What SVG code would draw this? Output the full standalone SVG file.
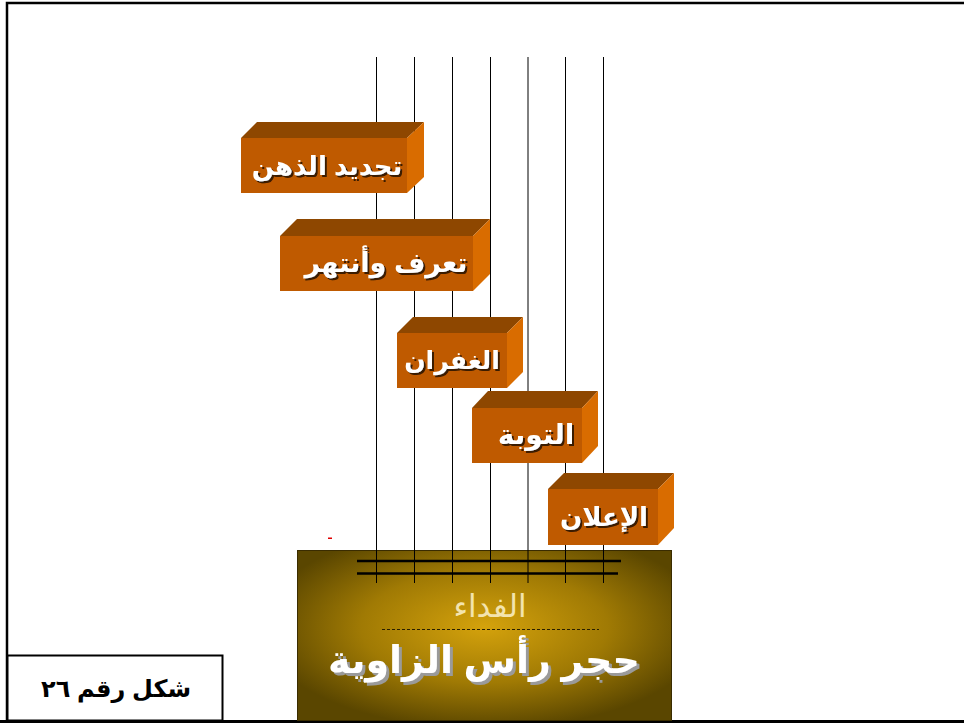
<svg xmlns="http://www.w3.org/2000/svg" width="964" height="724" viewBox="0 0 964 724">
<defs>
<radialGradient id="gold" cx="50%" cy="45%" r="60%">
<stop offset="0" stop-color="#d4a20c"/>
<stop offset="0.55" stop-color="#a07a04"/>
<stop offset="1" stop-color="#5a4600"/>
</radialGradient>
<filter id="dark" x="-10%" y="-30%" width="130%" height="160%">
<feOffset in="SourceAlpha" dx="2" dy="2" result="o"/>
<feFlood flood-color="#3a1a00"/>
<feComposite in2="o" operator="in" result="s"/>
<feMerge><feMergeNode in="s"/><feMergeNode in="SourceGraphic"/></feMerge>
</filter>
<filter id="grey" x="-10%" y="-30%" width="130%" height="160%">
<feOffset in="SourceAlpha" dx="3" dy="3" result="o"/>
<feFlood flood-color="#9a9a9a"/>
<feComposite in2="o" operator="in" result="s"/>
<feMerge><feMergeNode in="s"/><feMergeNode in="SourceGraphic"/></feMerge>
</filter>
<style>
.front{fill:#bf5a00}
.top{fill:#8e4700}
.side{fill:#d96c00}
.lbl{font-family:"Liberation Sans","DejaVu Sans",sans-serif;font-weight:bold;text-anchor:middle;fill:#fff;filter:url(#dark)}
.vl{stroke:#000;stroke-width:1}
.hl{stroke:#000;stroke-width:2.5}
</style>
</defs>
<rect width="964" height="724" fill="#fff"/>
<g id="frame" fill="none" stroke="#000">
<polyline points="7,722 7,3 964,3" stroke-width="2.5"/>
<line x1="0" y1="721.5" x2="964" y2="721.5" stroke-width="3"/>
</g>
<g id="base">
<rect x="297.5" y="550.5" width="374" height="170" fill="url(#gold)" stroke="#3a2c00" stroke-width="1"/>
<text x="490" y="617" font-family="Liberation Sans,DejaVu Sans,sans-serif" font-size="31" fill="#f3e4ae" text-anchor="middle">الفداء</text>
<line x1="382" y1="629.5" x2="599" y2="629.5" stroke="#2a2000" stroke-width="1" stroke-dasharray="3,2"/>
<text x="484" y="673" font-family="Liberation Sans,DejaVu Sans,sans-serif" font-weight="bold" font-size="38" fill="#ffffff" text-anchor="middle" filter="url(#grey)">حجر رأس الزاوية</text>
</g>
<g id="connectors">
<line class="vl" x1="376.5" y1="57" x2="376.5" y2="583"/>
<line class="vl" x1="414.5" y1="57" x2="414.5" y2="583"/>
<line class="vl" x1="452.5" y1="57" x2="452.5" y2="583"/>
<line class="vl" x1="490.5" y1="57" x2="490.5" y2="583"/>
<line class="vl" x1="528" y1="57" x2="528" y2="583"/>
<line class="vl" x1="565.5" y1="57" x2="565.5" y2="583"/>
<line class="vl" x1="603.5" y1="57" x2="603.5" y2="583"/>
<line class="hl" x1="357" y1="561" x2="621" y2="561"/>
<line class="hl" x1="357" y1="573.5" x2="618" y2="573.5"/>
</g>
<rect x="328" y="537.5" width="4" height="1.5" fill="#e00000"/>
<g id="box1">
<polygon class="top" points="241,138 257,122 424,122 407,138"/>
<polygon class="side" points="407,138 424,122 424,177 407,193"/>
<rect class="front" x="241" y="138" width="166" height="55"/>
<text class="lbl" x="327" y="175" font-size="26">تجديد الذهن</text>
</g>
<g id="box2">
<polygon class="top" points="280,236 297,219 490,219 473,236"/>
<polygon class="side" points="473,236 490,219 490,274 473,291"/>
<rect class="front" x="280" y="236" width="193" height="55"/>
<text class="lbl" x="386" y="272" font-size="27">تعرف وأنتهر</text>
</g>
<g id="box3">
<polygon class="top" points="397,333 413,317 523,317 507,333"/>
<polygon class="side" points="507,333 523,317 523,372 507,388"/>
<rect class="front" x="397" y="333" width="110" height="55"/>
<text class="lbl" x="452" y="369" font-size="25">الغفران</text>
</g>
<g id="box4">
<polygon class="top" points="472,408 488,391 598,391 582,408"/>
<polygon class="side" points="582,408 598,391 598,446 582,463"/>
<rect class="front" x="472" y="408" width="110" height="55"/>
<text class="lbl" x="536" y="444" font-size="28">التوبة</text>
</g>
<g id="box5">
<polygon class="top" points="548,489 564,473 674,473 658,489"/>
<polygon class="side" points="658,489 674,473 674,528 658,545"/>
<rect class="front" x="548" y="489" width="110" height="56"/>
<text class="lbl" x="604" y="526" font-size="26">الإعلان</text>
</g>
<g id="label">
<rect x="7.5" y="655.5" width="215" height="65" fill="#fff" stroke="#000" stroke-width="2"/>
<text x="116" y="697" font-family="Liberation Sans,DejaVu Sans,sans-serif" font-weight="bold" font-size="24" fill="#000" text-anchor="middle">شكل رقم ٢٦</text>
</g>
</svg>
